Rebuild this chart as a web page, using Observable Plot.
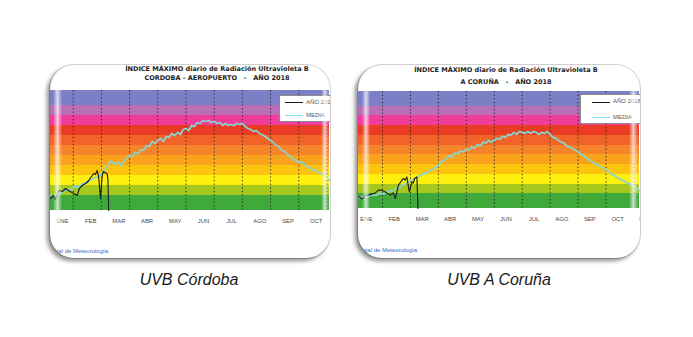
<!DOCTYPE html>
<html>
<head>
<meta charset="utf-8">
<script src="https://cdn.jsdelivr.net/npm/d3@7"></script>
<script src="https://cdn.jsdelivr.net/npm/@observablehq/plot@0.6"></script>
<style>
  html, body { margin: 0; padding: 0; background: #fff; }
  body { width: 693px; height: 337px; position: relative; overflow: hidden; font-family: "Liberation Sans", Arial, sans-serif; }
  .frame { position: absolute; background: #fff; border-radius: 24px; overflow: hidden;
           box-shadow: -3px 3px 4px rgba(0,0,0,0.45), 0 0 0 1px #d4d4d4; }
  .frame svg { position: absolute; left: 0; top: 0; }
  .title { position: absolute; text-align: center; font-family: "DejaVu Sans", sans-serif; font-weight: bold; font-size: 6.5px; color: #1e1e1e; white-space: pre; }
  .legend { position: absolute; background: #fff; border: 1px solid #8a8a8a; box-sizing: border-box; }
  .legend .sw { position: absolute; height: 0; }
  .legend .lt { position: absolute; font-size: 6px; color: #555; line-height: 7px; white-space: nowrap; }
  .foot { position: absolute; font-size: 6px; color: #3a6bc8; text-align: right; white-space: nowrap; }
  .fade { position: absolute; background: linear-gradient(to right, rgba(255,255,255,0), rgba(255,255,255,0.72), rgba(255,255,255,0)); }
  .caption { position: absolute; font-style: italic; font-size: 16px; line-height: 20px; color: #1a1a1a; text-align: center; width: 200px; }
</style>
</head>
<body>
<script>
// ---------- data ----------
const months = ["ENE","FEB","MAR","ABR","MAY","JUN","JUL","AGO","SEP","OCT","NOV"];
const monthStarts = [1,2,3,4,5,6,7,8,9,10];           // dashed month lines (months since 1 Jan)
const uvBandLow  = [0, 1.5, 2.5, 3.5, 4.5, 5.5, 6.5, 7.5, 8.5, 9.5, 10.5];
const uvBandHigh = [1.5, 2.5, 3.5, 4.5, 5.5, 6.5, 7.5, 8.5, 9.5, 10.5, 12];
const uvBandColor = ["#3fa93b","#a6c71c","#fdf00f","#fdc40f","#f9a21b","#f6842a","#f2632a",
                     "#ea3c25","#f03c9b","#b86fb6","#7c7fc6"];

// [month position, UV index]
const cordobaMean = [[0.2,1.5],[0.3,1.4],[0.45,1.7],[0.6,1.8],[0.75,2.1],[0.9,2.0],[1.05,2.4],[1.2,2.35],[1.35,2.7],[1.5,2.8],
  [1.65,3.1],[1.8,3.3],[1.95,3.5],[2.1,4.0],[2.2,4.4],[2.3,4.9],[2.4,4.8],[2.5,4.6],[2.6,4.8],[2.7,4.5],[2.8,4.9],[2.9,5.2],
  [3.0,5.5],[3.1,5.4],[3.2,5.8],[3.3,5.7],[3.4,6.1],[3.5,6.0],[3.6,6.5],[3.7,6.4],[3.8,6.9],[3.9,6.7],[4.0,7.0],[4.1,7.2],
  [4.2,6.9],[4.3,7.4],[4.4,7.3],[4.5,7.7],[4.6,7.5],[4.7,7.8],[4.8,7.6],[4.9,8.1],[5.0,8.2],[5.1,8.0],[5.2,8.5],[5.3,8.4],
  [5.4,8.8],[5.5,8.7],[5.6,9.0],[5.7,8.9],[5.8,9.0],[5.9,8.8],[6.0,8.9],[6.1,8.7],[6.2,8.8],[6.3,8.5],[6.4,8.7],[6.5,8.5],
  [6.6,8.6],[6.7,8.5],[6.8,8.7],[6.9,8.6],[7.0,8.7],[7.1,8.4],[7.2,8.2],[7.3,8.1],[7.4,7.9],[7.5,8.0],[7.6,7.7],[7.7,7.6],
  [7.8,7.4],[7.9,7.2],[8.0,7.0],[8.1,6.8],[8.2,6.5],[8.3,6.4],[8.4,6.0],[8.5,5.9],[8.6,5.6],[8.7,5.4],[8.8,5.1],[8.9,5.0],
  [9.0,4.8],[9.1,4.9],[9.2,4.6],[9.3,4.4],[9.4,4.3],[9.5,4.0],[9.6,4.1],[9.7,3.8],[9.8,3.7],[9.9,3.6],[10.0,3.3],[10.1,3.0]];
const cordoba2018 = [[0.195,1.2],[0.3,1.5],[0.37,1.1],[0.49,2.0],[0.62,1.9],[0.73,2.2],[0.83,2.0],[0.96,1.8],[1.14,1.5],
  [1.22,2.2],[1.32,2.5],[1.44,2.7],[1.55,3.0],[1.65,3.4],[1.73,3.7],[1.79,3.6],[1.85,4.0],[1.9,3.4],[1.97,1.2],[2.0,2.5],
  [2.03,3.5],[2.07,3.9],[2.12,3.8],[2.2,3.7],[2.23,3.2],[2.26,0]];

const corunaMean = [[0.15,1.1],[0.3,1.2],[0.45,1.25],[0.6,1.4],[0.75,1.35],[0.9,1.55],[1.05,1.5],[1.2,1.75],[1.35,1.85],
  [1.5,2.05],[1.65,2.25],[1.8,2.5],[1.95,2.8],[2.1,3.0],[2.25,3.2],[2.4,3.5],[2.55,3.6],[2.7,3.9],[2.85,4.1],[3.0,4.4],
  [3.1,4.8],[3.2,4.9],[3.3,5.2],[3.4,5.4],[3.5,5.3],[3.6,5.7],[3.7,5.6],[3.8,5.9],[3.9,5.8],[4.0,6.1],[4.1,6.0],[4.2,6.3],
  [4.3,6.2],[4.4,6.6],[4.5,6.4],[4.6,6.8],[4.7,6.7],[4.8,7.0],[4.9,6.8],[5.0,7.0],[5.1,7.2],[5.2,7.1],[5.3,7.4],[5.4,7.3],
  [5.5,7.6],[5.6,7.5],[5.7,7.8],[5.8,7.6],[5.9,7.9],[6.0,7.8],[6.1,7.7],[6.2,7.9],[6.3,7.7],[6.4,7.9],[6.5,7.8],[6.6,7.6],
  [6.7,7.8],[6.8,7.7],[6.9,7.9],[7.0,7.6],[7.1,7.3],[7.2,7.2],[7.3,7.0],[7.4,6.8],[7.5,6.7],[7.6,6.4],[7.7,6.3],[7.8,6.1],
  [7.9,6.0],[8.0,5.8],[8.1,5.6],[8.2,5.4],[8.3,5.2],[8.4,5.0],[8.5,4.8],[8.6,4.6],[8.7,4.5],[8.8,4.3],[8.9,4.1],[9.0,3.9],
  [9.1,3.8],[9.2,3.5],[9.3,3.4],[9.4,3.2],[9.5,3.0],[9.6,2.9],[9.7,2.7],[9.8,2.6],[9.9,2.45],[10.0,2.3],[10.1,2.05],[10.2,1.85]];
const coruna2018 = [[0.14,1.2],[0.27,1.0],[0.38,1.3],[0.5,1.37],[0.63,1.5],[0.74,1.6],[0.86,1.88],[0.95,1.9],[1.1,1.7],
  [1.2,1.5],[1.28,1.37],[1.38,1.6],[1.46,1.03],[1.57,2.4],[1.67,2.8],[1.75,3.08],[1.81,2.9],[1.87,3.24],[1.96,1.7],
  [2.01,2.3],[2.05,2.73],[2.1,2.6],[2.15,3.08],[2.23,3.24],[2.27,0]];

const titleLine1 = ["ÍNDICE MÁXIMO", " diario de Radiación Ultravioleta B"];
const stations = ["CORDOBA - AEROPUERTO", "A CORUÑA"];
const yearLabel = "AÑO 2018";
const legendLabels = ["AÑO 2018", "MEDIA"];
const sourceLabel = "Agencia Estatal de Meteorología";
const captions = ["UVB Córdoba", "UVB A Coruña"];

// ---------- drawing ----------
const bands = uvBandLow.map((lo, i) => ({lo, hi: uvBandHigh[i], color: uvBandColor[i]}));
const meanColor = "#86d6cc";
const legendMeanColor = "#7fe3ee";
const yearColor = "#1c1c1c";

function makePanel(cfg) {
  const frame = document.createElement("div");
  frame.className = "frame";
  Object.assign(frame.style, {left: cfg.left + "px", top: cfg.top + "px", width: cfg.w + "px", height: cfg.h + "px"});
  document.body.appendChild(frame);

  const [x0, x1] = cfg.domain;
  const labels = months.map((name, i) => ({name, pos: i + cfg.labelOffset})).filter(d => d.pos <= x1 + 0.3);
  const svg = Plot.plot({
    width: cfg.w, height: cfg.h,
    marginLeft: 0, marginRight: 1, marginTop: cfg.mt, marginBottom: cfg.mb,
    x: {domain: [x0, x1], axis: null},
    y: {domain: [0, 12], axis: null},
    style: {background: "transparent", fontFamily: "Liberation Sans, Arial, sans-serif", overflow: "hidden"},
    marks: [
      Plot.rect(bands, {x1: () => x0, x2: () => x1, y1: "lo", y2: "hi", fill: "color", shapeRendering: "crispEdges"}),
      Plot.ruleX(monthStarts, {stroke: "#202020", strokeWidth: 1, strokeDasharray: "1.4,2.2", strokeOpacity: 0.85}),
      Plot.line(cfg.mean, {x: d => d[0], y: d => d[1], stroke: meanColor, strokeWidth: 1.8}),
      Plot.line(cfg.year, {x: d => d[0], y: d => d[1], stroke: yearColor, strokeWidth: 1.1}),
      Plot.text(labels, {x: "pos", text: "name", frameAnchor: "bottom", dy: 12, fontSize: 5.9, fill: "#4a4a4a"})
    ]
  });
  frame.appendChild(svg);

  // title
  const t = document.createElement("div");
  t.className = "title";
  Object.assign(t.style, {left: (cfg.titleCx - 110) + "px", width: "220px", top: "0px", lineHeight: cfg.titleLH + "px"});
  t.innerHTML = "<b>" + titleLine1[0] + "</b>" + titleLine1[1] + "<br>" + cfg.station + "   -   " + yearLabel;
  frame.appendChild(t);

  // legend
  const lg = document.createElement("div");
  lg.className = "legend";
  Object.assign(lg.style, {left: cfg.lgLeft + "px", top: cfg.lgTop + "px", width: "80px", height: cfg.lgH + "px"});
  [yearColor, legendMeanColor].forEach((c, i) => {
    const sw = document.createElement("div");
    sw.className = "sw";
    Object.assign(sw.style, {left: cfg.swX + "px", width: cfg.swW + "px", top: cfg.swY[i] + "px", borderTop: (i ? 1.5 : 1) + "px solid " + c});
    lg.appendChild(sw);
    const lt = document.createElement("div");
    lt.className = "lt";
    Object.assign(lt.style, {left: (cfg.swX + cfg.swW + 3) + "px", top: (cfg.swY[i] - 3.5) + "px"});
    lt.textContent = legendLabels[i];
    lg.appendChild(lt);
  });
  frame.appendChild(lg);

  // source
  const f = document.createElement("div");
  f.className = "foot";
  Object.assign(f.style, {left: (cfg.footRight - 150) + "px", width: "150px", top: (cfg.footY - 4) + "px", lineHeight: "8px"});
  f.textContent = sourceLabel;
  frame.appendChild(f);

  // soft edges
  cfg.fades.forEach(([a, b]) => {
    const d = document.createElement("div");
    d.className = "fade";
    Object.assign(d.style, {left: a + "px", width: (b - a) + "px", top: "20px", height: "150px"});
    frame.appendChild(d);
  });

  // caption
  const c = document.createElement("div");
  c.className = "caption";
  Object.assign(c.style, {left: (cfg.capCx - 100) + "px", top: "270px"});
  c.textContent = cfg.caption;
  document.body.appendChild(c);
}

makePanel({
  left: 50, top: 65, w: 280, h: 193, mt: 25, mb: 48, domain: [0.195, 10.09], labelOffset: 0.62,
  mean: cordobaMean, year: cordoba2018, station: stations[0],
  titleCx: 167, titleLH: 9,
  lgLeft: 229, lgTop: 30, lgH: 27, swX: 5, swW: 18, swY: [6, 19],
  footRight: 58, footY: 186,
  fades: [[3, 12], [271, 279]],
  caption: captions[0], capCx: 189
});
makePanel({
  left: 358, top: 65, w: 282, h: 193, mt: 26, mb: 50, domain: [0.14, 10.2], labelOffset: 0.42,
  mean: corunaMean, year: coruna2018, station: stations[1],
  titleCx: 148, titleLH: 11.5,
  lgLeft: 222, lgTop: 29, lgH: 30, swX: 11, swW: 18, swY: [6.5, 22],
  footRight: 59, footY: 185,
  fades: [[4, 12], [271, 280]],
  caption: captions[1], capCx: 499
});
</script>
</body>
</html>
